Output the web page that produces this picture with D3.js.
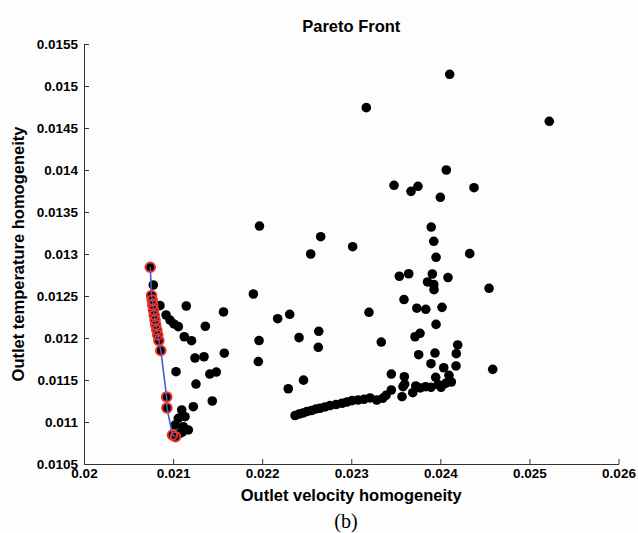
<!DOCTYPE html>
<html><head><meta charset="utf-8">
<script src="https://cdn.jsdelivr.net/npm/d3@7"></script>
<style>
html,body{margin:0;padding:0;background:#fdfdfd;}
svg{display:block;font-family:"Liberation Sans",Arial,sans-serif;}
</style></head>
<body>
<svg id="c" width="638" height="533"></svg>
<script>
// ---- data ----
const xTicks = [0.020, 0.021, 0.022, 0.023, 0.024, 0.025, 0.026];
const yTicks = [0.0105, 0.011, 0.0115, 0.012, 0.0125, 0.013, 0.0135, 0.014, 0.0145, 0.015, 0.0155];

// all solutions (black dots)
const solX = [
 0.020778,0.020853,0.020921,0.020965,0.021010,0.021059,0.021148,0.021566,0.021362,0.021126,
 0.021207,0.021575,0.021246,0.021347,0.021033,0.021412,0.021485,0.021257,0.021440,0.021227,
 0.021901,0.021965,0.021957,0.021970,0.021097,0.021059,0.021134,0.021115,0.021171,0.021022,
 0.021078,0.021104,
 0.022657,0.022545,0.023016,0.022174,0.022309,0.023199,0.022414,0.022635,0.022630,0.022464,
 0.022293,0.023169,
 0.022369,0.022414,0.022458,0.022503,0.022554,0.022604,0.022649,0.022705,0.022762,0.022829,
 0.022896,0.022952,0.023009,0.023076,0.023143,0.023211,0.023286,0.023353,0.023390,0.023450,
 0.023570,0.023581,0.023600,0.023690,0.023724,0.023775,0.023895,0.023977,0.024008,0.024123,
 0.023450,0.023596,0.023948,0.024097,0.024038,0.024176,0.023895,0.023757,0.023940,0.024179,
 0.024195,0.023716,0.023772,0.023337,0.024588,0.023835,0.024060,
 0.024105,0.025223,0.024067,0.023480,0.023671,0.023749,0.024000,0.024378,0.023898,0.023926,
 0.023952,0.024330,0.023540,0.023645,0.023910,0.023856,0.023926,0.023929,0.024086,0.024547,
 0.023592,0.023736,0.023837,0.024019,0.023952
];
const solY = [
 0.012631,0.012385,0.012274,0.012214,0.012167,0.012135,0.012381,0.012310,0.012140,0.012015,
 0.011968,0.011819,0.011762,0.011777,0.011599,0.011571,0.011595,0.011452,0.011250,0.011182,
 0.012524,0.011970,0.011720,0.013333,0.011143,0.011044,0.011063,0.010944,0.010905,0.010964,
 0.010865,0.010881,
 0.013206,0.013000,0.013087,0.012230,0.012282,0.012306,0.012004,0.012080,0.011889,0.011498,
 0.011396,0.014742,
 0.011077,0.011095,0.011107,0.011125,0.011137,0.011155,0.011163,0.011179,0.011196,0.011208,
 0.011223,0.011238,0.011254,0.011262,0.011270,0.011286,0.011262,0.011282,0.011318,0.011381,
 0.011301,0.011420,0.011452,0.011349,0.011429,0.011405,0.011413,0.011444,0.011413,0.011476,
 0.011571,0.011539,0.011532,0.011556,0.011646,0.011667,0.011694,0.011801,0.011821,0.011813,
 0.011917,0.012015,0.012056,0.011952,0.011627,0.011420,0.011460,
 0.015139,0.014580,0.014000,0.013818,0.013746,0.013806,0.013675,0.013789,0.013321,0.013151,
 0.012961,0.013004,0.012735,0.012765,0.012762,0.012667,0.012637,0.012575,0.012720,0.012592,
 0.012458,0.012355,0.012342,0.012365,0.012162
];

// Pareto-optimal solutions (red circles joined by the blue line)
const parX = [0.020744,0.020758,0.020766,0.020772,0.020780,0.020788,0.020797,0.020806,0.020817,
              0.020828,0.020840,0.020862,0.020928,0.020931,0.020993,0.021027];
const parY = [0.012842,0.012506,0.012452,0.012393,0.012333,0.012274,0.012214,0.012155,0.012095,
              0.012036,0.011970,0.011851,0.011298,0.011167,0.010845,0.010825];

// ---- drawing ----
const svg = d3.select("#c");
const L = 84, R = 618.5, T = 44, B = 464;
const x = d3.scaleLinear().domain([0.020, 0.026]).range([L, R]);
const y = d3.scaleLinear().domain([0.0105, 0.0155]).range([B, T]);
const fmt = d => String(+d.toFixed(4));

const xAxis = svg.append("g").attr("transform", `translate(0,${B})`)
  .call(d3.axisBottom(x).tickValues(xTicks).tickFormat(fmt).tickSizeInner(-5).tickSizeOuter(0).tickPadding(3));
const yAxis = svg.append("g").attr("transform", `translate(${L},0)`)
  .call(d3.axisLeft(y).tickValues(yTicks).tickFormat(fmt).tickSizeInner(-5).tickSizeOuter(0).tickPadding(6));
[xAxis, yAxis].forEach(a => {
  a.select(".domain").attr("stroke", "#333").attr("stroke-width", 1);
  a.selectAll(".tick line").attr("stroke", "#333");
  a.selectAll(".tick text").attr("fill", "#000").attr("font-size", "13.5px").attr("font-weight", "bold")
   .attr("font-family", "'Liberation Sans', Arial, sans-serif");
});
xAxis.selectAll(".tick text").attr("dy", "0.85em");

// black dots
const sol = solX.map((v, i) => [v, solY[i]]);
const par = parX.map((v, i) => [v, parY[i]]);
svg.append("g").selectAll("circle").data(sol.concat(par)).join("circle")
  .attr("cx", d => x(d[0])).attr("cy", d => y(d[1])).attr("r", 4.8).attr("fill", "#000");

// blue line
svg.append("path").datum(par)
  .attr("d", d3.line().x(d => x(d[0])).y(d => y(d[1])))
  .attr("fill", "none").attr("stroke", "#3d5ed6").attr("stroke-width", 1.6);

// red circles
svg.append("g").selectAll("circle").data(par).join("circle")
  .attr("cx", d => x(d[0])).attr("cy", d => y(d[1])).attr("r", 4.8)
  .attr("fill", "none").attr("stroke", "#e8352c").attr("stroke-width", 2);

// texts
svg.append("text").attr("x", (L + R) / 2).attr("y", 32).attr("text-anchor", "middle")
  .attr("font-size", "16.5px").attr("font-weight", "bold").text("Pareto Front");
svg.append("text").attr("x", (L + R) / 2).attr("y", 501).attr("text-anchor", "middle")
  .attr("font-size", "16.5px").attr("font-weight", "bold").text("Outlet velocity homogeneity");
svg.append("text").attr("transform", `translate(24,${(T + B) / 2}) rotate(-90)`).attr("text-anchor", "middle")
  .attr("font-size", "16.5px").attr("font-weight", "bold").text("Outlet temperature homogeneity");
svg.append("text").attr("x", 346).attr("y", 528).attr("text-anchor", "middle")
  .attr("font-size", "20px").attr("font-family", "'Liberation Serif', 'Times New Roman', serif").text("(b)");
</script>
</body></html>
